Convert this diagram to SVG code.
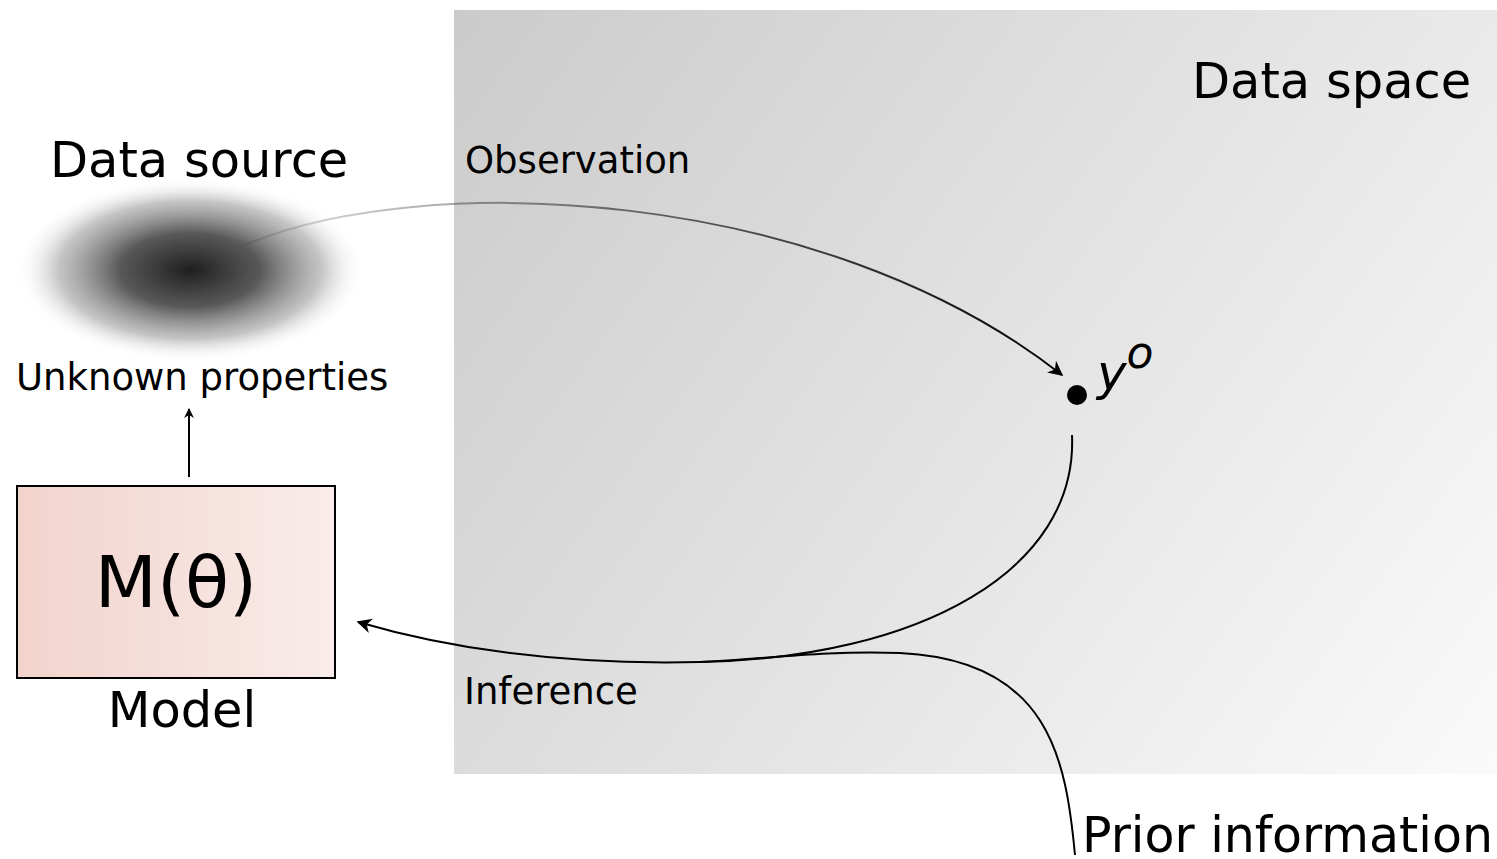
<svg xmlns="http://www.w3.org/2000/svg" width="1497" height="859" viewBox="0 0 1497 859">
<defs>
<style>
text{font-family:"DejaVu Sans","Liberation Sans",sans-serif;fill:#000}
.lbl{font-size:37px}
.big{font-size:49.5px}
.conn{fill:none;stroke:#000;stroke-width:2}
</style>
<linearGradient id="bg" x1="454" y1="10" x2="1497" y2="774" gradientUnits="userSpaceOnUse">
<stop offset="0" stop-color="#cbcbcb"/>
<stop offset="1" stop-color="#fafafa"/>
</linearGradient>
<linearGradient id="box" x1="0" y1="0" x2="1" y2="0">
<stop offset="0" stop-color="#f2d3cc"/>
<stop offset="1" stop-color="#f9ecea"/>
</linearGradient>
<radialGradient id="blob" cx="0.5" cy="0.5" r="0.5">
<stop offset="0" stop-color="#1e1e1e"/>
<stop offset="0.4" stop-color="#4a4a4a" stop-opacity="0.92"/>
<stop offset="0.75" stop-color="#8a8a8a" stop-opacity="0.5"/>
<stop offset="1" stop-color="#fff" stop-opacity="0"/>
</radialGradient>
<linearGradient id="obs" x1="245" y1="0" x2="1062" y2="0" gradientUnits="userSpaceOnUse">
<stop offset="0" stop-color="#000" stop-opacity="0.1"/>
<stop offset="1" stop-color="#000" stop-opacity="1"/>
</linearGradient>
<marker id="ah" viewBox="0 0 10 10" refX="9" refY="5" markerWidth="10" markerHeight="10" markerUnits="userSpaceOnUse" orient="auto">
<path d="M0,0 L10,5 L0,10 L3,5 Z" fill="#000"/>
</marker>
<marker id="ahb" viewBox="0 0 10 10" refX="9" refY="5" markerWidth="15" markerHeight="15" markerUnits="userSpaceOnUse" orient="auto">
<path d="M0,0 L10,5 L0,10 L3,5 Z" fill="#000"/>
</marker>
</defs>
<g id="data-space">
<rect x="454" y="10" width="1043" height="764" fill="url(#bg)"/>
<text class="big" x="1192" y="98">Data space</text>
</g>
<g id="data-source">
<ellipse cx="190" cy="270" rx="175" ry="92" fill="url(#blob)"/>
<text class="big" x="50" y="177">Data source</text>
<text class="lbl" x="16" y="390">Unknown properties</text>
</g>
<g id="model">
<rect x="17" y="486" width="318" height="192" fill="url(#box)" stroke="#000" stroke-width="2"/>
<text x="176" y="607" font-size="72" text-anchor="middle">M(θ)</text>
<text class="big" x="182" y="727" text-anchor="middle">Model</text>
</g>
<g id="observation">
<circle cx="1077" cy="395" r="10" fill="#000"/>
<text x="1097" y="390" font-size="50" font-style="italic">y<tspan dy="-22" font-size="44">o</tspan></text>
</g>
<g id="prior">
<text x="1082" y="852" font-size="49">Prior information</text>
</g>
<g id="labels">
<text class="lbl" x="465" y="173">Observation</text>
<text class="lbl" x="464" y="704">Inference</text>
</g>
<g id="connectors">
<path d="M245,245 C420,170 820,185 1062,375" fill="none" stroke="url(#obs)" stroke-width="2" marker-end="url(#ahb)"/>
<path class="conn" d="M1072,435 C1078,570 920,658 700,662 C570,665 460,652 358,622" marker-end="url(#ahb)"/>
<path class="conn" d="M1075,855 C1066,760 1050,660 900,653 C820,650 760,660 700,662"/>
<path class="conn" d="M189,477 L189,409" marker-end="url(#ah)"/>
</g>
</svg>
